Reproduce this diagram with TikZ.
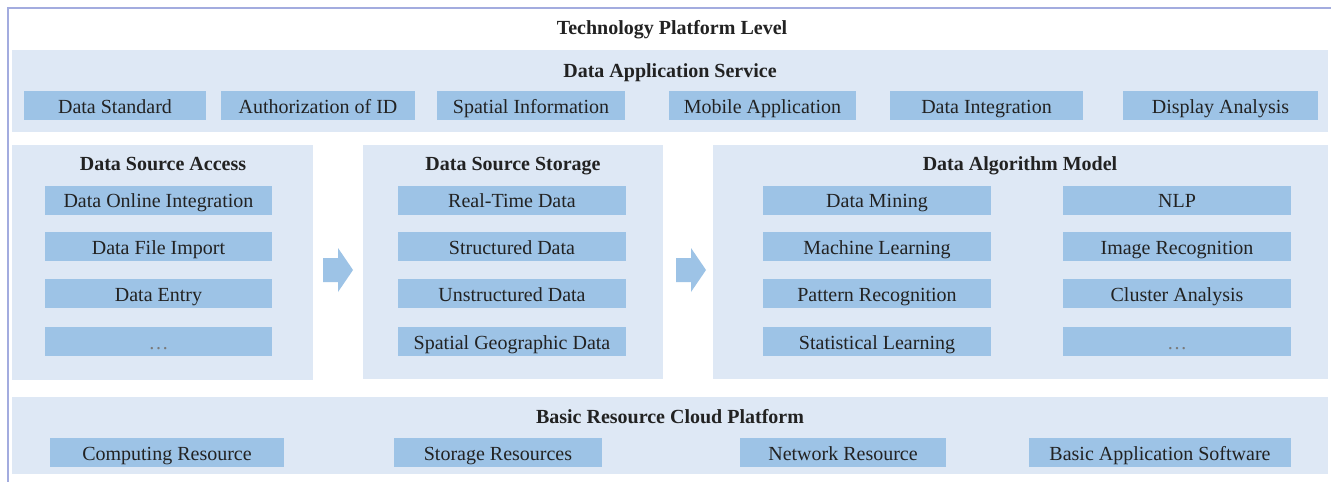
\documentclass[tikz,border=0pt]{standalone}
\usepackage{fontspec}
\setmainfont{Liberation Serif}
\definecolor{panelbg}{HTML}{DEE8F5}
\definecolor{itembg}{HTML}{9DC3E6}
\definecolor{framecol}{HTML}{A3ACDF}
\definecolor{txt}{HTML}{222222}
\begin{document}
\begin{tikzpicture}[x=0.5pt,y=-0.5pt,
  panel/.style={fill=panelbg, draw=none, anchor=north west, inner sep=0pt},
  itembox/.style={fill=itembg, draw=none, minimum height=14.5pt, inner sep=0pt, text height=8.5pt, text depth=1pt, font=\fontsize{10}{12}\selectfont, text=txt},
  ttl/.style={font=\fontsize{10}{12}\selectfont\bfseries, inner sep=0pt, text height=8.5pt, text depth=1pt, text=txt},
  blockarrow/.style={fill=itembg, draw=none}]

\useasboundingbox[fill=white] (0,0) rectangle (1334,482);
\draw[framecol, line width=1.1pt] (8,482) -- (8,8) -- (1331,8);

% panels
\node[panel, minimum width=658pt, minimum height=41pt] (papp) at (12,50) {};
\node[panel, minimum width=150.5pt, minimum height=117.5pt] (pacc) at (12,145) {};
\node[panel, minimum width=150pt, minimum height=117pt] (psto) at (363,145) {};
\node[panel, minimum width=307.5pt, minimum height=117pt] (pmod) at (713,145) {};
\node[panel, minimum width=658pt, minimum height=38.5pt] (pcld) at (12,397) {};

% titles
\node[ttl] (tplat) at (672,27) {Technology Platform Level};
\node[ttl] (tapp) at (670,70) {Data Application Service};
\node[ttl] (tacc) at (163,163) {Data Source Access};
\node[ttl] (tsto) at (513,163) {Data Source Storage};
\node[ttl] (tmod) at (1020,163) {Data Algorithm Model};
\node[ttl] (tcld) at (670,416) {Basic Resource Cloud Platform};

% application service row
\node[itembox, minimum width=91pt] (a1) at (115,105.5) {Data Standard};
\node[itembox, minimum width=97pt] (a2) at (318,105.5) {Authorization of ID};
\node[itembox, minimum width=94pt] (a3) at (531,105.5) {Spatial Information};
\node[itembox, minimum width=93.5pt] (a4) at (762.5,105.5) {Mobile Application};
\node[itembox, minimum width=96.5pt] (a5) at (986.5,105.5) {Data Integration};
\node[itembox, minimum width=97.5pt] (a6) at (1220.5,105.5) {Display Analysis};

% data source access
\node[itembox, minimum width=113.5pt] (s1) at (158.5,200) {Data Online Integration};
\node[itembox, minimum width=113.5pt] (s2) at (158.5,246.5) {Data File Import};
\node[itembox, minimum width=113.5pt] (s3) at (158.5,293.5) {Data Entry};
\node[itembox, minimum width=113.5pt, text=txt!60] (s4) at (158.5,341.5) {\ldots};

% data source storage
\node[itembox, minimum width=114pt] (d1) at (512,200) {Real-Time Data};
\node[itembox, minimum width=114pt] (d2) at (512,246.5) {Structured Data};
\node[itembox, minimum width=114pt] (d3) at (512,293.5) {Unstructured Data};
\node[itembox, minimum width=114pt] (d4) at (512,341.5) {Spatial Geographic Data};

% data algorithm model
\node[itembox, minimum width=114pt] (m1) at (877,200) {Data Mining};
\node[itembox, minimum width=114pt] (m2) at (877,246.5) {Machine Learning};
\node[itembox, minimum width=114pt] (m3) at (877,293.5) {Pattern Recognition};
\node[itembox, minimum width=114pt] (m4) at (877,341.5) {Statistical Learning};
\node[itembox, minimum width=114pt] (n1) at (1177,200) {NLP};
\node[itembox, minimum width=114pt] (n2) at (1177,246.5) {Image Recognition};
\node[itembox, minimum width=114pt] (n3) at (1177,293.5) {Cluster Analysis};
\node[itembox, minimum width=114pt, text=txt!60] (n4) at (1177,341.5) {\ldots};

% cloud platform
\node[itembox, minimum width=117pt] (c1) at (167,452.5) {Computing Resource};
\node[itembox, minimum width=104pt] (c2) at (498,452.5) {Storage Resources};
\node[itembox, minimum width=103pt] (c3) at (843,452.5) {Network Resource};
\node[itembox, minimum width=131pt] (c4) at (1160,452.5) {Basic Application Software};

% block arrows between panels
\fill[blockarrow] (323,258) -- (338,258) -- (338,248) -- (353,270) -- (338,292) -- (338,282) -- (323,282) -- cycle;
\fill[blockarrow] (676,258) -- (691,258) -- (691,248) -- (706,270) -- (691,292) -- (691,282) -- (676,282) -- cycle;
\end{tikzpicture}
\end{document}
